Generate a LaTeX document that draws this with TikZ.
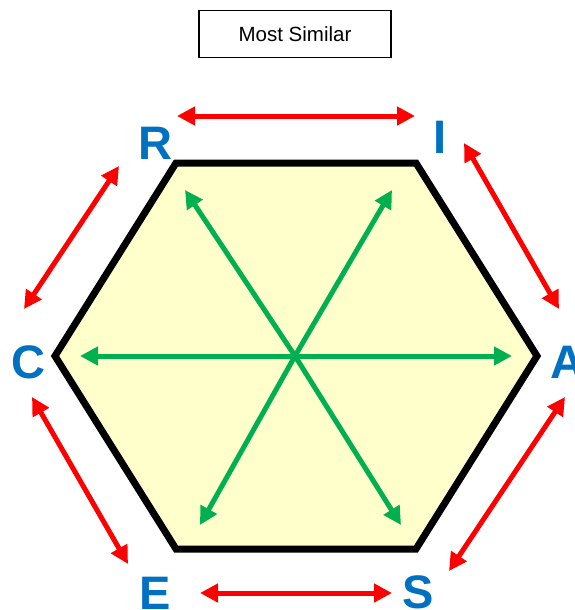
\documentclass[tikz,border=0pt]{standalone}
\usepackage{fontspec}
\setmainfont{Liberation Sans}
\usepackage{xcolor}
\usetikzlibrary{arrows.meta}
\definecolor{letterblue}{RGB}{0,112,192}
\definecolor{arrowgreen}{RGB}{0,176,80}
\definecolor{hexfill}{RGB}{255,255,204}

\begin{document}
\begin{tikzpicture}[x=1pt, y=-1pt,
    letter/.style={font=\fontsize{47}{47}\selectfont\bfseries, text=letterblue, inner sep=0pt},
    titlebox/.style={draw, line width=1.4pt, minimum width=192pt, minimum height=47pt, font=\fontsize{20.5}{24}\selectfont},
    hexline/.style={line width=7pt, line join=miter, fill=hexfill},
    redarrow/.style={{Triangle[length=18pt, width=18pt]}-{Triangle[length=18pt, width=18pt]}, line width=5pt, red},
    greenarrow/.style={-{Triangle[length=18pt, width=18pt]}, line width=5pt, arrowgreen}
]
\useasboundingbox (0,0) rectangle (574,610);

% title
\node[titlebox] (title) at (295,34) {Most Similar};

% hexagon corners
\coordinate (h1) at (176,163);
\coordinate (h2) at (416,163);
\coordinate (h3) at (537,356);
\coordinate (h4) at (416,549);
\coordinate (h5) at (176,549);
\coordinate (h6) at (55,356);
\draw[hexline] (h1) -- (h2) -- (h3) -- (h4) -- (h5) -- (h6) -- cycle;

% letters
\node[letter] (R) at (155,143) {R};
\node[letter] (I) at (440,137) {I};
\node[letter] (A) at (567,362) {A};
\node[letter] (C) at (28,362) {C};
\node[letter] (E) at (155,593) {E};
\node[letter] (S) at (418,592) {S};

% green arrows from the centre
\coordinate (mid) at (295,356);
\coordinate (g1) at (185,190);
\coordinate (g2) at (392,190);
\coordinate (g3) at (512,356);
\coordinate (g4) at (401,525);
\coordinate (g5) at (200,525);
\coordinate (g6) at (80,356);
\foreach \g in {g1,g2,g3,g4,g5,g6}
    \draw[greenarrow] (mid) -- (\g);

% red arrows round the outside
\coordinate (ri1) at (177,116);
\coordinate (ri2) at (415,116);
\coordinate (ia1) at (464,143);
\coordinate (ia2) at (559,309);
\coordinate (as1) at (565,397);
\coordinate (as2) at (449,571);
\coordinate (es1) at (200,593);
\coordinate (es2) at (392,593);
\coordinate (ce1) at (32,397);
\coordinate (ce2) at (128,564);
\coordinate (cr1) at (24,309);
\coordinate (cr2) at (119,166);
\draw[redarrow] (ri1) -- (ri2);
\draw[redarrow] (ia1) -- (ia2);
\draw[redarrow] (as1) -- (as2);
\draw[redarrow] (es1) -- (es2);
\draw[redarrow] (ce1) -- (ce2);
\draw[redarrow] (cr1) -- (cr2);

\end{tikzpicture}
\end{document}
